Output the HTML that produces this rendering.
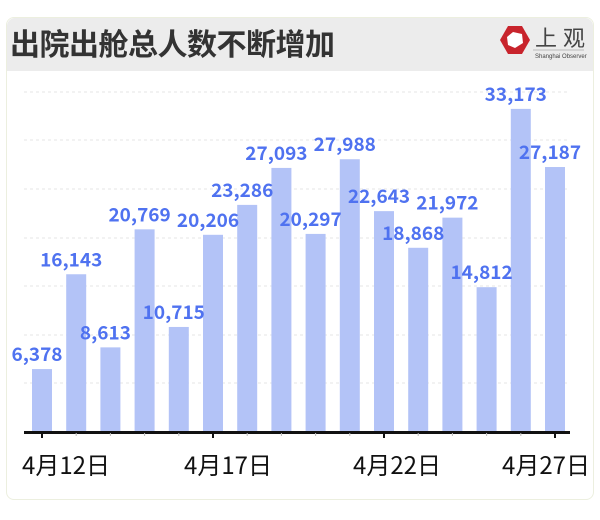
<!DOCTYPE html>
<html><head><meta charset="utf-8"><style>
body{margin:0;width:600px;height:520px;background:#fff;font-family:"Liberation Sans","Noto Sans CJK SC",sans-serif;position:relative;overflow:hidden}
.card{position:absolute;left:6px;top:17px;width:586px;height:481px;border:1px solid #ecefdf;border-radius:8px;background:#fff}
.hdr{position:absolute;left:0;top:0;width:586px;height:53px;background:#ececec;border-radius:8px 8px 0 0}
.t{position:absolute;left:3px;top:2px;font-size:30px;font-weight:bold;color:#333;font-family:"Noto Sans CJK SC",sans-serif;letter-spacing:-0.5px}
</style></head><body>
<div class="card"><div class="hdr"><div class="t">出院出舱总人数不断增加</div></div></div>
<svg width="600" height="520" style="position:absolute;left:0;top:0">
<g transform="translate(515,40)">
<polygon points="-7,-14 7,-14 15,0 7,14 -7,14 -15,0" fill="#c8242c"/>
<polygon points="-2,-8 7,-6 8,3 0,8 -7,5 -8,-3" fill="#fff"/>
</g>
<text x="535" y="46" font-size="22" fill="#444" font-family="Noto Sans CJK SC,sans-serif" letter-spacing="6">上观</text>
<line x1="533" y1="50" x2="584" y2="50" stroke="#aaa" stroke-width="0.7"/>
<text x="535" y="58" font-size="6" fill="#444">Shanghai Observer</text>
<g stroke="#e6e6e6" stroke-dasharray="3,3" stroke-width="1">
<line x1="24" y1="92" x2="570" y2="92"/><line x1="24" y1="140" x2="570" y2="140"/><line x1="24" y1="189" x2="570" y2="189"/><line x1="24" y1="238" x2="570" y2="238"/><line x1="24" y1="286" x2="570" y2="286"/><line x1="24" y1="335" x2="570" y2="335"/><line x1="24" y1="383" x2="570" y2="383"/>
</g>
<g id="bars" fill="#b3c3f7"></g>
<g id="labs" font-size="19" font-weight="bold" fill="#4f72f0" text-anchor="middle" font-family="Noto Sans CJK SC,sans-serif"></g>
<line x1="24" y1="432.5" x2="570" y2="432.5" stroke="#111" stroke-width="3"/>
<g id="ticks"></g>
<g font-size="24" fill="#111" text-anchor="middle" font-family="Noto Sans CJK SC,sans-serif">
<text x="66" y="474">4月12日</text><text x="228" y="474">4月17日</text><text x="397" y="474">4月22日</text><text x="546" y="474">4月27日</text>
</g>
</svg>
<script>
var v=[6378,16143,8613,20769,10715,20206,23286,27093,20297,27988,22643,18868,21972,14812,33173,27187];
var b='',l='',t='';
v.forEach(function(d,i){var x=32+i*34.2,h=d*0.00971,y=431-h;
b+='<rect x="'+x+'" y="'+y+'" width="20" height="'+h+'"/>';
l+='<text x="'+(x+5)+'" y="'+(y-8)+'">'+d.toLocaleString('en-US')+'</text>';
var maj=(i%5==0);t+='<line x1="'+(x+10)+'" y1="433" x2="'+(x+10)+'" y2="'+(maj?438:436)+'" stroke="'+(maj?'#111':'#bbb')+'" stroke-width="'+(maj?2:1)+'"/>';});
document.getElementById('bars').innerHTML=b;document.getElementById('labs').innerHTML=l;document.getElementById('ticks').innerHTML=t;
</script>
</body></html>
